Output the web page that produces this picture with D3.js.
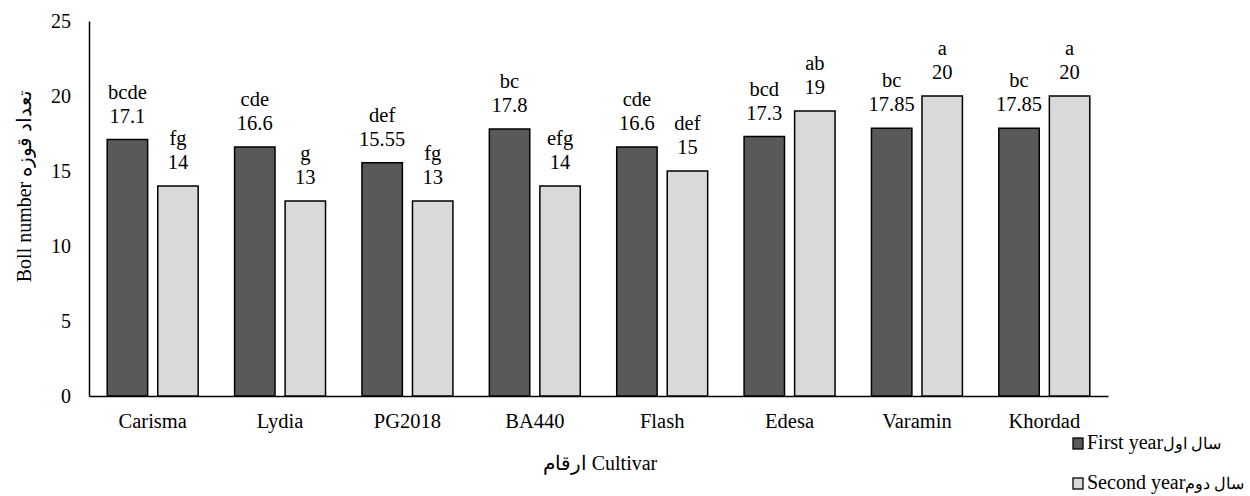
<!DOCTYPE html>
<html>
<head>
<meta charset="utf-8">
<script src="https://cdn.jsdelivr.net/npm/d3@7"></script>
<style>
  body { margin: 0; background: #fff; }
  #chart text { font-family: "Liberation Serif", serif; }
</style>
</head>
<body>
<svg id="chart" width="1250" height="496" font-family="Liberation Serif"></svg>
<script>
// Cultivars and boll counts for the two growing seasons
const cultivars = ["Carisma", "Lydia", "PG2018", "BA440", "Flash", "Edesa", "Varamin", "Khordad"];
const firstYear = [17.1, 16.6, 15.55, 17.8, 16.6, 17.3, 17.85, 17.85];
const secondYear = [14, 13, 13, 14, 15, 19, 20, 20];
const firstLetters = ["bcde", "cde", "def", "bc", "cde", "bcd", "bc", "bc"];
const secondLetters = ["fg", "g", "fg", "efg", "def", "ab", "a", "a"];
const yTicks = [0, 5, 10, 15, 20, 25];
const seriesNames = ["First year", "Second year"];
const seriesNamesFa = ["سال اول", "سال دوم"];
const seriesColors = ["#595959", "#d9d9d9"];

const svg = d3.select("#chart");
const plotLeft = 89, plotRight = 1108, plotTop = 21, plotBottom = 396;

const x0 = d3.scaleBand().domain(cultivars).range([plotLeft, plotRight]).paddingInner(0.286).paddingOuter(0.143);
const x1 = d3.scaleBand().domain([0, 1]).range([0, x0.bandwidth()]).paddingInner(0.2);
const y = d3.scaleLinear().domain([0, 25]).range([plotBottom, plotTop]);

// Y axis
const yAxis = svg.append("g").attr("transform", `translate(${plotLeft},0)`)
  .call(d3.axisLeft(y).tickValues(yTicks).tickSize(0).tickPadding(18))
  .attr("font-family", "Liberation Serif").attr("font-size", 20);
yAxis.select(".domain").attr("stroke", "#000").attr("stroke-width", 1.5);
yAxis.selectAll("text").attr("fill", "#000");

// X axis
const xAxis = svg.append("g").attr("transform", `translate(0,${plotBottom})`)
  .call(d3.axisBottom(x0).tickSize(0).tickPadding(17))
  .attr("font-family", "Liberation Serif").attr("font-size", 20.5);
xAxis.select(".domain").attr("stroke", "#000").attr("stroke-width", 1.5);
xAxis.selectAll("text").attr("fill", "#000");

const rows = cultivars.map((c, i) => ({
  c,
  vals: [
    { s: 0, v: firstYear[i], l: firstLetters[i] },
    { s: 1, v: secondYear[i], l: secondLetters[i] }
  ]
}));

const groups = svg.append("g")
  .attr("font-family", "Liberation Serif")
  .attr("font-size", 20.5)
  .selectAll("g").data(rows).join("g")
  .attr("transform", d => `translate(${x0(d.c)},0)`);

groups.selectAll("rect").data(d => d.vals).join("rect")
  .attr("x", d => x1(d.s))
  .attr("y", d => y(d.v))
  .attr("width", x1.bandwidth())
  .attr("height", d => y(0) - y(d.v))
  .attr("fill", d => seriesColors[d.s])
  .attr("stroke", "#000")
  .attr("stroke-width", 1.5);

// Value labels with significance letters above
groups.selectAll("text.val").data(d => d.vals).join("text")
  .attr("class", "val")
  .attr("x", d => x1(d.s) + x1.bandwidth() / 2)
  .attr("y", d => y(d.v) - 17)
  .attr("text-anchor", "middle")
  .text(d => String(d.v));

groups.selectAll("text.let").data(d => d.vals).join("text")
  .attr("class", "let")
  .attr("x", d => x1(d.s) + x1.bandwidth() / 2)
  .attr("y", d => y(d.v) - 41)
  .attr("text-anchor", "middle")
  .text(d => d.l);

// Axis titles
svg.append("text")
  .attr("transform", "translate(31,186) rotate(-90)")
  .attr("text-anchor", "middle")
  .attr("font-size", 20)
  .text("Boll number تعداد قوزه");

svg.append("text")
  .attr("x", 600)
  .attr("y", 470)
  .attr("text-anchor", "middle")
  .attr("font-size", 20)
  .text("ارقام Cultivar");

// Legend
const legend = svg.append("g").selectAll("g").data(seriesNames).join("g")
  .attr("transform", (d, i) => `translate(1073,${438 + i * 40})`);
legend.append("rect")
  .attr("width", 10).attr("height", 11)
  .attr("fill", (d, i) => seriesColors[i])
  .attr("stroke", "#000").attr("stroke-width", 1.3);
const legendText = legend.append("text")
  .attr("x", 14).attr("y", 11)
  .attr("font-size", 20);
legendText.append("tspan").text(d => d);
legendText.append("tspan")
  .attr("font-size", 16)
  .text((d, i) => seriesNamesFa[i]);
</script>
</body>
</html>
